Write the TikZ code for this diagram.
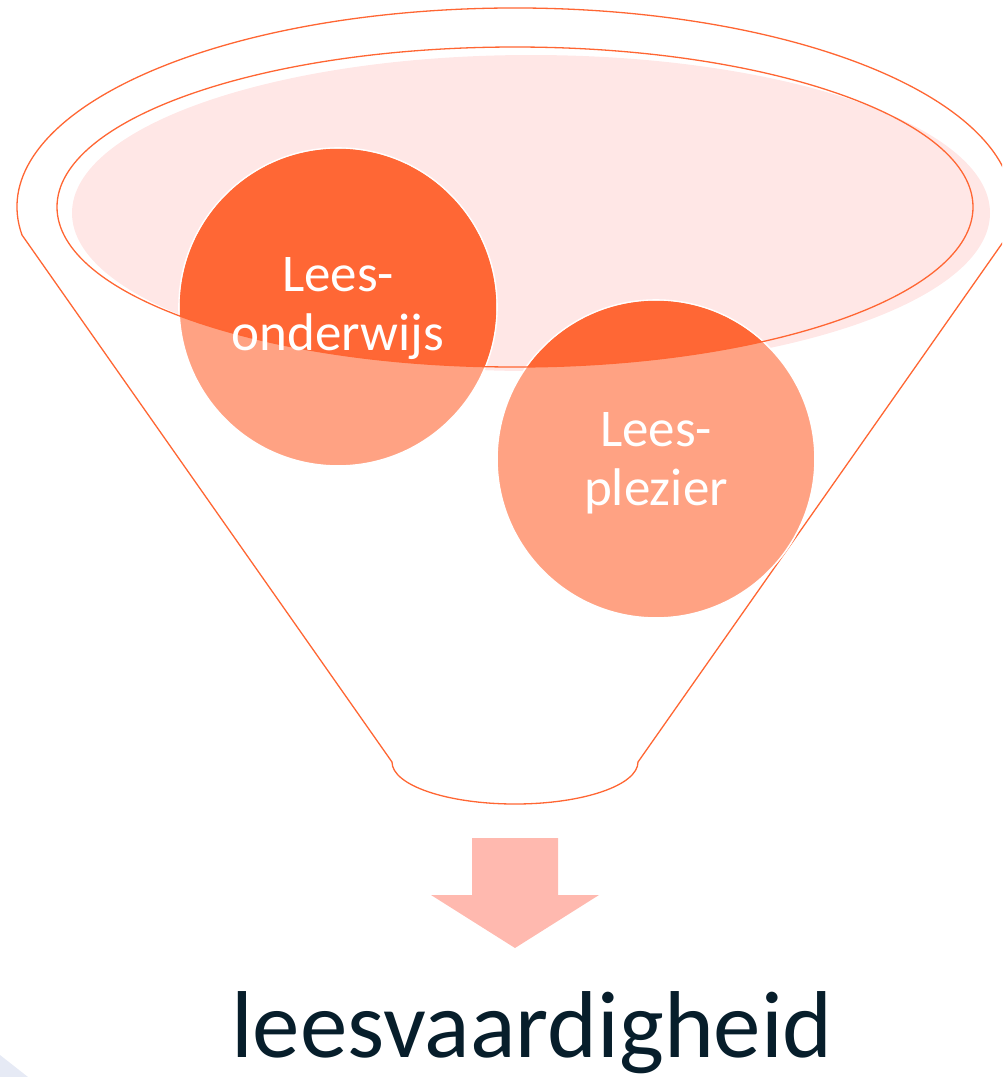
\documentclass[tikz,border=0pt]{standalone}
\usepackage{fontspec}
\setmainfont{Carlito}
\definecolor{funnelline}{HTML}{FF6633}
\definecolor{pinkfill}{HTML}{FFE7E6}
\definecolor{bubblelight}{HTML}{FFA283}
\definecolor{bubbledark}{HTML}{FF6735}
\definecolor{arrowfill}{HTML}{FFB9AF}
\definecolor{resulttext}{HTML}{071E2B}
\definecolor{lavender}{HTML}{E6EAF5}
\tikzset{
  funnel/.style={draw=funnelline, line width=1.3pt},
  bubble/.style={circle, minimum size=318pt, inner sep=0pt, fill=bubblelight, draw=white, line width=1.6pt},
  bubbletext/.style={text=white, align=center, font=\fontsize{53}{59}\selectfont},
  resultstyle/.style={text=resulttext, font=\fontsize{95}{100}\selectfont, inner sep=0pt, anchor=base}
}
\begin{document}
\begin{tikzpicture}[x=1pt,y=1pt]
\useasboundingbox (0,0) rectangle (1002,-1077);
\clip (0,0) rectangle (1002,-1077);
% pink top fill
\fill[pinkfill] (531,-213) ellipse[x radius=459, y radius=158];
% outer funnel outline
\draw[funnel] (22,-235) arc[start angle=188.1, end angle=-8.1, x radius=498, y radius=199]
  -- (638,-762) arc[start angle=0, end angle=-180, x radius=123, y radius=42] -- cycle;
% bubbles
\node[bubble] (c1) at (338,-307) {};
\node[bubble] (c2) at (656,-459) {};
\begin{scope}
  \clip (515,-207) ellipse[x radius=458, y radius=160];
  \fill[bubbledark] (c1.center) circle[radius=158.2];
  \fill[bubbledark] (c2.center) circle[radius=158.2];
\end{scope}
% inner rim outline
\draw[funnel] (515,-207) ellipse[x radius=458, y radius=160];
% bubble texts
\node[bubbletext] (t1) at ([yshift=-2pt]c1.center) {Lees-\\onderwijs};
\node[bubbletext] (t2) at ([yshift=-4pt]c2.center) {Lees-\\plezier};
% arrow
\fill[arrowfill] (472,-838) -- (558,-838) -- (558,-895) -- (599,-895) -- (515,-948)
  -- (431,-895) -- (472,-895) -- cycle;
% result
\node[resultstyle] (res) at (532,-1057) {leesvaardigheid};
% corner decoration
\fill[lavender] (0,-1055) -- (28,-1077) -- (0,-1077) -- cycle;
\end{tikzpicture}
\end{document}
